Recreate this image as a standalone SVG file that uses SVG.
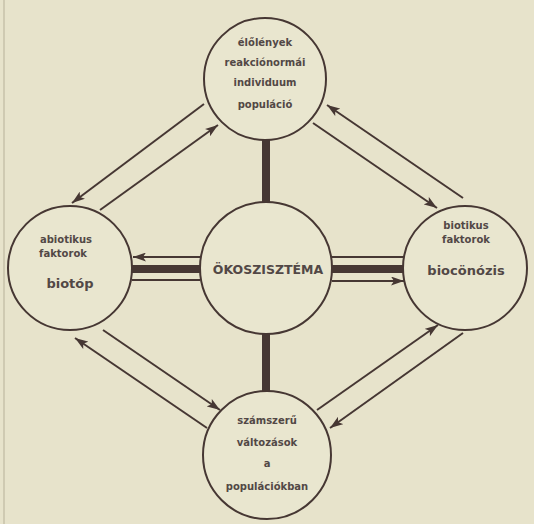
<svg xmlns="http://www.w3.org/2000/svg" width="534" height="524" viewBox="0 0 534 524">
<defs>
<marker id="ah" viewBox="0 0 13 9" refX="13" refY="4.5" markerWidth="13" markerHeight="9" markerUnits="userSpaceOnUse" orient="auto">
<path d="M0,0 L13,4.5 L0,9 L3,4.5 Z" fill="#463733"/>
</marker>
</defs>
<style>
.c{fill:#e9e6cf;stroke:#463733;stroke-width:2}
.t{font-family:"DejaVu Sans","Liberation Sans",sans-serif;font-weight:bold;fill:#524846;text-anchor:middle}
.s{font-size:10px}
.m{font-size:13px}
.l{stroke:#463733;stroke-width:2;fill:none}
.a{marker-end:url(#ah)}
.th{stroke:#463733;stroke-width:8}
</style>
<rect width="534" height="524" fill="#e7e3cb"/>
<line x1="4" y1="0" x2="4" y2="524" stroke="#cfcab2" stroke-width="2"/>
<g id="connectors">
<line class="th" x1="266" y1="139" x2="266" y2="203"/>
<line class="th" x1="266" y1="333" x2="266" y2="392"/>
<line class="l a" x1="200" y1="257" x2="133" y2="257"/>
<line class="th" x1="200" y1="269" x2="132" y2="269"/>
<line class="l" x1="200" y1="280" x2="132" y2="280"/>
<line class="l" x1="332" y1="257" x2="404" y2="257"/>
<line class="th" x1="332" y1="269" x2="404" y2="269"/>
<line class="l a" x1="332" y1="281" x2="404" y2="281"/>
<line class="l a" x1="204" y1="104" x2="72" y2="203"/>
<line class="l a" x1="100" y1="210" x2="218" y2="125"/>
<line class="l a" x1="463" y1="198" x2="327" y2="105"/>
<line class="l a" x1="313" y1="123" x2="437" y2="208"/>
<line class="l a" x1="103" y1="330" x2="220" y2="410"/>
<line class="l a" x1="207" y1="428" x2="75" y2="338"/>
<line class="l a" x1="317" y1="410" x2="438" y2="325"/>
<line class="l a" x1="463" y1="333" x2="330" y2="428"/>
</g>
<g id="top">
<circle class="c" cx="265" cy="79" r="61"/>
<text class="t s" x="265" y="46">élőlények</text>
<text class="t s" x="265" y="66">reakciónormái</text>
<text class="t s" x="265" y="86">individuum</text>
<text class="t s" x="265" y="108">populáció</text>
</g>
<g id="left">
<circle class="c" cx="70" cy="268" r="62"/>
<text class="t s" x="66" y="243">abiotikus</text>
<text class="t s" x="63" y="257">faktorok</text>
<text class="t m" x="70" y="288">biotóp</text>
</g>
<g id="center">
<circle class="c" cx="266" cy="268" r="66"/>
<text class="t" x="268" y="274" font-size="12.5">ÖKOSZISZTÉMA</text>
</g>
<g id="right">
<circle class="c" cx="465" cy="268" r="62"/>
<text class="t s" x="466" y="229">biotikus</text>
<text class="t s" x="466" y="243">faktorok</text>
<text class="t m" x="466" y="275">biocönózis</text>
</g>
<g id="bottom">
<circle class="c" cx="267" cy="455" r="64"/>
<text class="t s" x="267" y="424">számszerű</text>
<text class="t s" x="267" y="446">változások</text>
<text class="t s" x="267" y="467">a</text>
<text class="t s" x="267" y="490">populációkban</text>
</g>
</svg>
